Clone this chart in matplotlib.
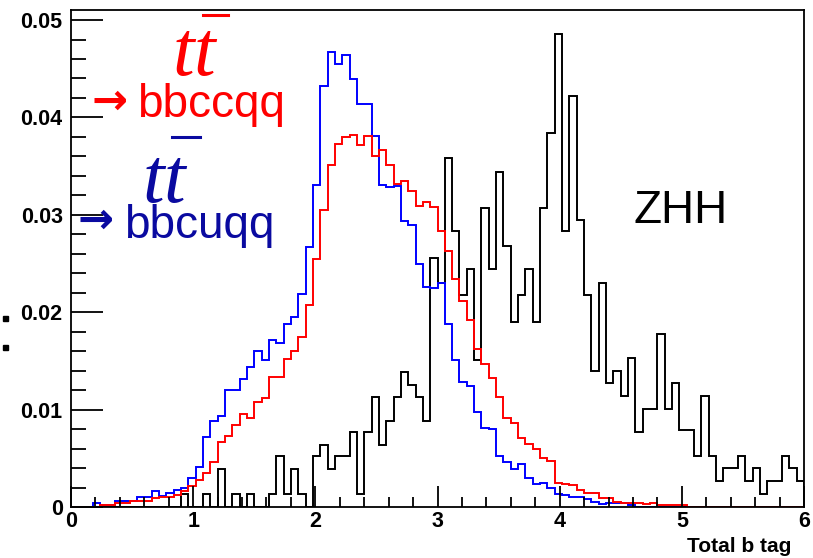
import numpy as np
import matplotlib
matplotlib.use("Agg")
import matplotlib.pyplot as plt
from matplotlib.lines import Line2D
from matplotlib.patches import Rectangle

plt.rcParams["mathtext.fontset"] = "custom"
plt.rcParams["mathtext.it"] = "Liberation Serif:italic"
plt.rcParams["mathtext.rm"] = "Liberation Serif"

# ---- data (100 bins from 0 to 6) ----
bin_edges_range = (0.0, 6.0)
n_bins = 100

tt_bbcuqq = [0, 0, 0, 0.0004, 0.0002, 0.0002, 0.00065, 0.00065, 0.00065, 0.001,
             0.001, 0.0016, 0.0011, 0.0014, 0.0017, 0.002, 0.003, 0.0041, 0.0072, 0.0088,
             0.0093, 0.012, 0.012, 0.0131, 0.0144, 0.016, 0.0151, 0.0171, 0.0168, 0.0188,
             0.0195, 0.0219, 0.0267, 0.0331, 0.0432, 0.0467, 0.0455, 0.0464, 0.0439, 0.0414,
             0.0414, 0.0381, 0.0331, 0.0329, 0.033, 0.0294, 0.029, 0.025, 0.0226, 0.0225,
             0.023, 0.0188, 0.0151, 0.0128, 0.0124, 0.0098, 0.0081, 0.008, 0.0052, 0.0046,
             0.0039, 0.0044, 0.003, 0.0024, 0.0025, 0.002, 0.0013, 0.0012, 0.001, 0.001,
             0.0008, 0.0005, 0.0003, 0.0004, 0.0004, 0.0004, 0.0002, 0, 0, 0,
             0, 0, 0, 0, 0, 0, 0, 0, 0, 0,
             0, 0, 0, 0, 0, 0, 0, 0, 0, 0]

tt_bbccqq = [0, 0, 0, 0, 0.0002, 0.0002, 0.0004, 0.0004, 0.00065, 0.00065,
             0.0006, 0.0009, 0.001, 0.001, 0.0012, 0.0016, 0.0022, 0.0028, 0.0035, 0.0046,
             0.0067, 0.0073, 0.0084, 0.0096, 0.0091, 0.0108, 0.0112, 0.0133, 0.0133, 0.0152,
             0.016, 0.0175, 0.0207, 0.0255, 0.0305, 0.0351, 0.0373, 0.038, 0.0382, 0.0372,
             0.0381, 0.036, 0.0367, 0.0351, 0.0332, 0.0335, 0.0324, 0.0309, 0.0313, 0.0308,
             0.0283, 0.0263, 0.0234, 0.0211, 0.0192, 0.0162, 0.0147, 0.0132, 0.0113, 0.0091,
             0.0086, 0.0071, 0.0065, 0.006, 0.005, 0.0047, 0.0025, 0.0024, 0.0023, 0.0017,
             0.0014, 0.0014, 0.0009, 0.0009, 0.0005, 0.00045, 0.00045, 0.00045, 0.0003, 0.0004,
             0.0002, 0.0002, 0.0002, 0.0002, 0, 0, 0, 0, 0, 0,
             0, 0, 0, 0, 0, 0, 0, 0, 0, 0]

zhh = [0, 0, 0, 0, 0, 0, 0, 0, 0, 0,
       0, 0, 0, 0, 0, 0.0013, 0, 0, 0.0013, 0,
       0.0039, 0, 0.0013, 0, 0.0013, 0, 0, 0.0013, 0.0052, 0.0013,
       0.0039, 0.0013, 0, 0.0052, 0.0064, 0.0039, 0.0052, 0.0052, 0.0077, 0.0013,
       0.0077, 0.0113, 0.0064, 0.0088, 0.0113, 0.0139, 0.0125, 0.0113, 0.0088, 0.0256,
       0.0230, 0.0358, 0.0283, 0.0218, 0.0244, 0.0151, 0.0307, 0.0244, 0.0344, 0.0268,
       0.0190, 0.0218, 0.0244, 0.0190, 0.0307, 0.0384, 0.0486, 0.0283, 0.0422, 0.0295,
       0.0218, 0.0140, 0.0230, 0.0127, 0.0140, 0.0114, 0.0153, 0.0077, 0.0101, 0.0101,
       0.0178, 0.0101, 0.0127, 0.0079, 0.0079, 0.0052, 0.0114, 0.0052, 0.0027, 0.0040,
       0.0040, 0.0052, 0.0027, 0.0040, 0.0013, 0.0027, 0.0027, 0.0052, 0.0040, 0.0027]

x_ticks = [0, 1, 2, 3, 4, 5, 6]
y_ticks = [0, 0.01, 0.02, 0.03, 0.04, 0.05]
y_tick_labels = ["0", "0.01", "0.02", "0.03", "0.04", "0.05"]
x_title = "Total b tag"

W, H = 813, 558
fig = plt.figure(figsize=(W / 100, H / 100), dpi=100)
ax = fig.add_axes([71 / W, 1 - 507 / H, (804 - 71) / W, (507 - 10) / H])

edges = np.linspace(bin_edges_range[0], bin_edges_range[1], n_bins + 1)
ax.stairs(zhh, edges, color="black", lw=1.4, baseline=0)
ax.stairs(tt_bbcuqq, edges, color="#0000ff", lw=1.4, baseline=0)
ax.stairs(tt_bbccqq, edges, color="#ff0000", lw=1.4, baseline=0)

ax.set_xlim(0, 6)
ax.set_ylim(0, 0.05103)

ax.set_xticks(x_ticks)
ax.set_xticks(np.arange(0, 6.001, 0.2), minor=True)
ax.set_yticks(y_ticks)
ax.set_yticklabels(y_tick_labels)
ax.set_yticks(np.arange(0, 0.0511, 0.002), minor=True)

lab_font = dict(family="Liberation Sans", weight="bold", size=15)
for lab in ax.get_xticklabels() + ax.get_yticklabels():
    lab.set_fontfamily("Liberation Sans")
    lab.set_fontweight("bold")
    lab.set_fontsize(15.5)

ax.tick_params(axis="both", which="both", direction="in", top=False, right=False, width=1.3, color="black")
ax.tick_params(axis="y", which="major", length=23, pad=6)
ax.tick_params(axis="y", which="minor", length=11)
ax.tick_params(axis="x", which="major", length=15, pad=3)
ax.tick_params(axis="x", which="minor", length=7)
for s in ax.spines.values():
    s.set_linewidth(1.3)

def fx(px):
    return px / W

def fy(py):
    return 1 - py / H

# axis title
fig.text(fx(791), fy(552), x_title, ha="right", va="baseline", **lab_font)

# annotations
red = "#ff0000"
dblue = "#0a0aa0"
fig.text(fx(172), fy(75), r"$tt$", color=red, size=56, va="baseline", ha="left")
fig.add_artist(Line2D([fx(203), fx(228)], [fy(15), fy(15)], color=red, lw=2.2))
fig.text(fx(91), fy(114), "\u2192", color=red, family="DejaVu Sans", weight="bold", size=31, va="baseline", ha="left")
fig.text(fx(137), fy(117), "bbccqq", color=red, family="Liberation Sans", size=33, va="baseline", ha="left")

fig.text(fx(142), fy(202), r"$tt$", color=dblue, size=56, va="baseline", ha="left")
fig.add_artist(Line2D([fx(172), fx(200)], [fy(137), fy(137)], color=dblue, lw=2.2))
fig.text(fx(77), fy(233), "\u2192", color=dblue, family="DejaVu Sans", weight="bold", size=31, va="baseline", ha="left")
fig.text(fx(124), fy(238), "bbcuqq", color=dblue, family="Liberation Sans", size=33, va="baseline", ha="left")

fig.text(fx(633), fy(223), "ZHH", color="black", family="Liberation Sans", size=33, va="baseline", ha="left")

# small residual marks at the left edge
for yy in (316, 345):
    fig.add_artist(Rectangle((fx(3), fy(yy + 5)), 5 / W, 5 / H, color="black"))

fig.savefig("out.png", dpi=100)
